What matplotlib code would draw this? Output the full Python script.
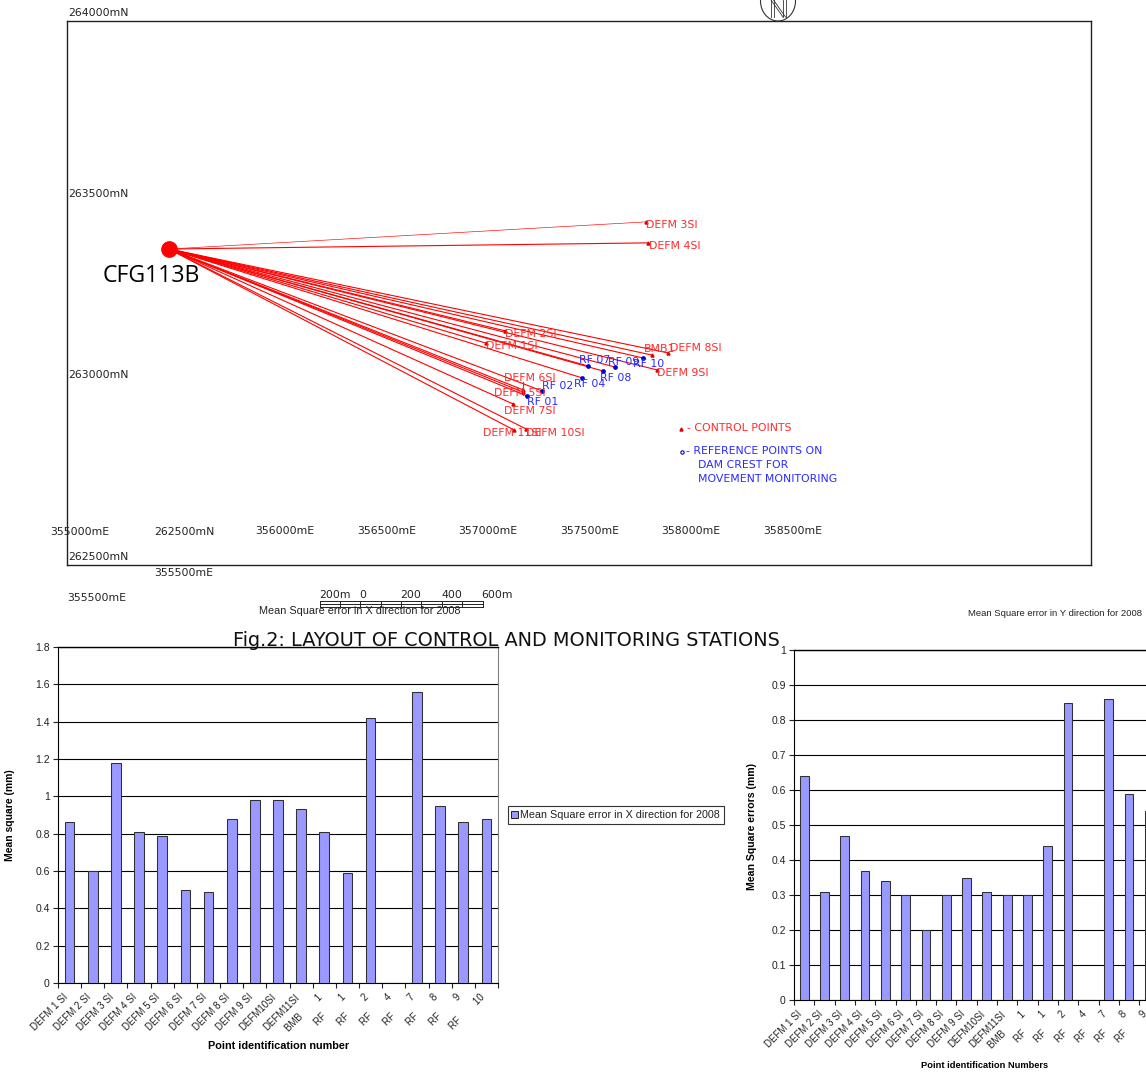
import matplotlib
matplotlib.use('Agg')
import matplotlib.pyplot as plt
from matplotlib.patches import Ellipse, Rectangle

W, H = 1146, 1072

# ---------- data ----------
control_names = ['DEFM 3SI', 'DEFM 4SI', 'DEFM 2SI', 'DEFM 1SI', 'BMB1', 'DEFM 8SI', 'DEFM 9SI',
                 'DEFM 6SI', 'DEFM 5SI', 'DEFM 7SI', 'DEFM 11SI', 'DEFM 10SI']
control_e = [357777, 357786, 357083, 356989, 357806, 357885, 357831, 357171, 357171, 357122, 357127, 357186]
control_n = [263423, 263365, 263122, 263088, 263055, 263061, 263014, 262959, 262953, 262920, 262848, 262851]
ref_names = ['RF 01', 'RF 02', 'RF 04', 'RF 07', 'RF 08', 'RF 09', 'RF 10']
ref_e = [357191, 357265, 357462, 357491, 357565, 357624, 357762]
ref_n = [262942, 262956, 262992, 263025, 263011, 263022, 263047]
station_e, station_n = 355429, 263348

categories = ['DEFM 1 SI', 'DEFM 2 SI', 'DEFM 3 SI', 'DEFM 4 SI', 'DEFM 5 SI', 'DEFM 6 SI', 'DEFM 7 SI',
              'DEFM 8 SI', 'DEFM 9 SI', 'DEFM10SI', 'DEFM11SI', 'BMB 1', 'RF 1', 'RF 2', 'RF 4', 'RF 7',
              'RF 8', 'RF 9', 'RF 10']
mse_x = [0.86, 0.60, 1.18, 0.81, 0.79, 0.50, 0.49, 0.88, 0.98, 0.98, 0.93, 0.81, 0.59, 1.42, 0, 1.56, 0.95, 0.86, 0.88]
# the last category of the Y chart lies beyond the page edge
mse_y = [0.64, 0.31, 0.47, 0.37, 0.34, 0.30, 0.20, 0.30, 0.35, 0.31, 0.30, 0.30, 0.44, 0.85, 0, 0.86, 0.59, 0.54]

RED, BLUE, BAR = '#FF2A2A', '#2A2AFF', '#9999FF'
ARIAL = 'Liberation Sans'
MAPF = 'DejaVu Sans'

fig = plt.figure(figsize=(W / 100, H / 100), dpi=100, facecolor='white')


def px_axes(l, t, r, b, **kw):
    return fig.add_axes([l / W, 1 - b / H, (r - l) / W, (b - t) / H], **kw)


# ---------- map ----------
m = px_axes(67, 21, 1091, 565)
m.set_xlim(354927, 359967)
m.set_ylim(262475, 263978)
m.set_xticks([])
m.set_yticks([])
for s in m.spines.values():
    s.set_linewidth(1.0)
    s.set_color('#222222')
for i, (e, n) in enumerate(zip(control_e + ref_e, control_n + ref_n)):
    m.plot([station_e, e], [station_n, n], color='#FF0000',
           lw=0.45 if i == 0 else 0.8, zorder=2)
m.plot(control_e, control_n, ls='none', marker='^', ms=2.2, color='#E00000', zorder=3)
m.plot(ref_e, ref_n, ls='none', marker='o', ms=2.4, color='#0000CC', zorder=3)
m.plot([station_e], [station_n], ls='none', marker='o', ms=11, color='#FF0000', zorder=4)

# ---------- overlay in page pixels ----------
ov = fig.add_axes([0, 0, 1, 1], facecolor='none')
ov.set_xlim(0, W)
ov.set_ylim(H, 0)
ov.axis('off')
ov.set_zorder(10)


def t(x, y, s, size=7.85, color='#222222', fam=MAPF, ha='left', va='center', **kw):
    ov.text(x, y, s, fontsize=size, color=color, family=fam, ha=ha, va=va, **kw)


control_pos = [(646, 225), (649, 246), (505, 334), (486, 346), (644, 349), (670, 348), (657, 373),
               (504, 378), (494, 393), (504, 411), (483, 433), (526, 433)]
for (x, y), s in zip(control_pos, control_names):
    t(x, y, s, color=RED)
ref_pos = [(527, 402), (542, 386), (574, 384), (579, 360), (600, 378), (608, 362), (633, 364)]
for (x, y), s in zip(ref_pos, ref_names):
    t(x, y, s, color=BLUE)

ov.plot([523, 523], [382, 391], color='#666666', lw=0.9)

t(103, 276, 'CFG113B', size=16.7, color='black', fam='Open Sans')

east_labels = [(80, 532, '355000mE'), (184, 532, '262500mN'), (285, 531, '356000mE'), (387, 531, '356500mE'),
               (488, 531, '357000mE'), (590, 531, '357500mE'), (691, 531, '358000mE'), (793, 531, '358500mE'),
               (184, 573, '355500mE'), (97, 598, '355500mE')]
for x, y, s in east_labels:
    t(x, y, s, ha='center')
for y, s in [(13, '264000mN'), (194, '263500mN'), (375, '263000mN'), (557, '262500mN')]:
    t(68, y, s)

ov.plot([681], [428.5], ls='none', marker='^', ms=2.2, color='#E00000')
t(687, 428, '- CONTROL POINTS', color=RED)
ov.plot([682], [452], ls='none', marker='o', ms=2.4, mfc='white', mec='#0000CC', mew=0.8)
t(686, 451, '- REFERENCE POINTS ON', color=BLUE)
t(698, 465, 'DAM CREST FOR', color=BLUE)
t(698, 479, 'MOVEMENT MONITORING', color=BLUE)

# scale bar
ov.plot([319.5, 482.5], [600.5, 600.5], color='#222222', lw=0.7)
ov.plot([319.5, 482.5], [603.5, 603.5], color='#222222', lw=0.7)
ov.plot([319.5, 482.5], [607, 607], color='#222222', lw=0.7)
for i in range(9):
    x = 319.5 + 20.375 * i if i < 8 else 482.5
    ov.plot([x, x], [600.5, 607], color='#222222', lw=0.7)
for x, s in [(319, '200m'), (359, '0'), (400, '200'), (441, '400'), (481, '600m')]:
    t(x, 595, s)

t(233, 641, 'Fig.2: LAYOUT OF CONTROL AND MONITORING STATIONS', size=13.9, color='#111111')

# north arrow
ov.add_patch(Ellipse((778, 1), 35, 40, fill=False, ec='#333333', lw=0.8, clip_on=True))
for x0, y0, x1, y1 in [(771, 17, 771, 0), (773.5, 17, 773.5, 0), (771, 0, 783, 17), (773.5, 0, 785.5, 17),
                       (783, 17, 783, 0), (785.5, 17, 785.5, 0)]:
    ov.plot([x0, x1], [y0, y1], color='#333333', lw=0.6)


# ---------- bar charts ----------
def bar_chart(ax, labels, vals, ymax, step, nslots, width):
    xs = range(len(vals))
    ax.set_axisbelow(True)
    ax.yaxis.grid(True, color='black', lw=0.8)
    ax.bar(xs, vals, width=width, color=BAR, edgecolor='#303030', lw=0.75, zorder=3)
    ax.set_xlim(-0.5, nslots - 0.5)
    ax.set_ylim(0, ymax)
    n = int(round(ymax / step))
    yt = [round(i * step, 1) for i in range(n + 1)]
    ax.set_yticks(yt)
    ax.set_yticklabels([f'{v:g}' for v in yt], fontsize=7.5, family=ARIAL, color='#222222')
    ax.set_xticks([i - 0.5 for i in range(nslots + 1)], labels=[''] * (nslots + 1))
    ax.tick_params(axis='both', length=3.5, width=0.8, color='#222222', pad=2.5)
    for i, lab in enumerate(labels):
        lab = lab.replace(' ', '        ') if lab.startswith(('RF', 'BMB')) else lab
        ax.annotate(lab, xy=(i, 0), xycoords=('data', 'axes fraction'), xytext=(-2.5, -9),
                    textcoords='offset points', rotation=45, rotation_mode='anchor', ha='right', va='center',
                    fontsize=7.0, family=ARIAL, color='#222222', annotation_clip=False)
    ax.spines['top'].set_linewidth(1.0)
    ax.spines['right'].set_color('#808080')
    ax.patch.set_alpha(0)


a1 = px_axes(58, 647, 498, 983)
bar_chart(a1, categories, mse_x, 1.8, 0.2, 19, 0.42)
a2 = px_axes(794, 650, 794 + 19 * 20.3, 1000)
bar_chart(a2, categories[:18], mse_y, 1.0, 0.1, 19, 0.43)

t(10, 815, 'Mean square (mm)', size=7.5, color='black', fam=ARIAL, ha='center', rotation=90, fontweight='bold')
t(752, 826, 'Mean Square errors (mm)', size=7.6, color='black', fam=ARIAL, ha='center', rotation=90, fontweight='bold')
t(279, 1046, 'Point identification number', size=7.8, color='black', fam=ARIAL, ha='center', fontweight='bold')
t(985, 1066, 'Point identification Numbers', size=6.7, color='black', fam=ARIAL, ha='center', fontweight='bold')
t(360, 611, 'Mean Square error in X direction for 2008', size=7.8, fam=ARIAL, ha='center')
t(1142, 614, 'Mean Square error in Y direction for 2008', size=6.8, fam=ARIAL, ha='right')

# legend of the X chart
ov.add_patch(Rectangle((508, 806), 216, 18, fc='white', ec='#333333', lw=0.8))
ov.add_patch(Rectangle((511, 811), 7, 7, fc=BAR, ec='#202020', lw=0.7))
t(520, 815, 'Mean Square error in X direction for 2008', size=7.75, fam=ARIAL)

fig.savefig('out.png', dpi=100, facecolor='white')
